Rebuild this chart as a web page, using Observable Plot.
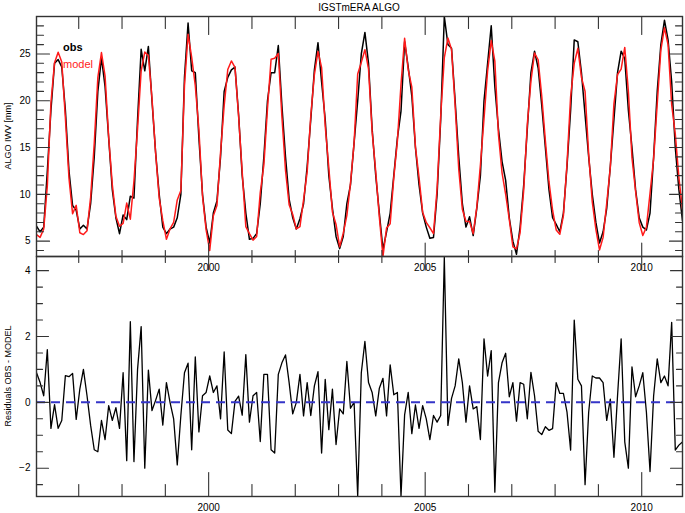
<!DOCTYPE html>
<html><head><meta charset="utf-8">
<script src="https://cdn.jsdelivr.net/npm/d3@7"></script>
<script src="https://cdn.jsdelivr.net/npm/@observablehq/plot@0.6"></script>
<style>
body{margin:0;background:#fff;}
#wrap{position:relative;width:685px;height:513px;font-family:"Liberation Sans",Arial,sans-serif;overflow:hidden;}
#wrap svg{position:absolute;left:0;top:0;overflow:visible;}
.lab{position:absolute;white-space:nowrap;color:#000;}
</style></head><body><div id="wrap"></div>
<script>
// ---- data: monthly series, first sample early Jan 1996, last Dec 2010 ----
const startYear = 1996;
const obs = [
 6.6,6.0,6.5,12.5,19,24,24.4,23.6,19,12.5,8.8,8.3,
 6.3,6.7,6.3,9,14,21,24.6,21.5,16,10.5,7.5,5.8,
 7.8,7.3,9.8,9.6,18,25.5,23.2,25.8,20,14.5,10,6.5,
 5.8,6.3,6.5,7.5,10,22.5,28.3,23.2,23,16,10,6.5,
 4.8,8,9.3,14,21,22.5,23.3,23.6,18.5,12,8,5.2,
 5.3,5.8,9,14,20,23,23,25.9,19.5,14,9.5,7.5,
 6.3,7.4,9,13,18,23.3,26.2,22,18,12,8.5,5.5,
 4.2,5.5,9,11,15.5,20,25,27.3,24,17,12,8,
 4.1,6,8,12,16,18.9,26.3,23.6,20.5,15,11,8,
 6.5,5.3,5.4,10,18,29.0,26,25.6,20,14,9,6.5,
 7.6,5.6,8.5,12,20,24,28,21.5,17,13.5,11.5,7.5,
 5,3.6,6.5,11,17,23,25.3,23.5,19.5,15,10.5,7.5,
 6.8,6,8,13,19,26.5,26.3,23,18.5,14,10,7,
 4.8,6,8.5,13,18,23,25.3,24.5,19,15,10.5,7.5,
 6.5,6.2,8,14,21,26,28.6,26.5,22,15,10.5,7.2
];
const model = [
 5.7,5.4,6.3,10.9,19.79,24.07,25.19,24.15,18.19,11.72,7.92,8.82,
 5.9,5.7,6.1,9.7,15.44,22.5,25.15,22.63,16.1,11.05,7.66,6.59,
 6.9,9.07,7.35,11.4,17.0,23.2,25.2,24.82,20.25,14.44,9.6,7.19,
 5.2,6.3,7.0,9.4,10.4,21.6,27.11,24.64,21.62,16.9,9.8,6.2,
 4.0,7.7,8.8,14.5,19.47,23.34,24.25,23.57,18.31,12.39,6.55,5.8,
 5.1,5.5,10.19,13.15,19.15,24.44,24.54,25.05,18.3,12.56,8.9,7.85,
 6.3,6.55,9.41,12.4,18.4,22.8,25.27,23.54,17.3,12.83,8.1,6.78,
 4.4,5.85,7.76,11.18,15.5,22.85,24.1,25.45,23.4,16.7,12.41,7.57,
 3.37,6.41,6.86,11.77,15.7,21.75,26.68,23.3,21.45,15.08,11.79,8.1,
 7.0,6.43,5.8,10.6,18.4,24.6,26.7,25.48,19.5,12.68,8.4,7.1,
 7.1,5.8,8.63,13.13,18.07,23.2,26.43,24.23,16.4,12.3,10.01,7.33,
 4.4,4.17,5.9,10.45,17.5,22.09,25.1,24.38,20.48,15.74,11.35,8.3,
 6.2,5.73,7.73,13.3,20.45,24.0,25.6,22.5,21.0,14.3,9.2,6.26,
 4.06,5.4,9.05,12.9,19.67,22.8,23.37,25.7,21.0,13.92,10.33,7.0,
 5.6,6.5,10.1,13.8,19.68,25.4,27.8,26.0,19.57,16.45,11.8,8.4
];
const resid = [
 0.9,0.6,0.2,1.6,-0.79,-0.07,-0.79,-0.55,0.81,0.78,0.88,-0.52,
 0.4,1.0,0.2,-0.7,-1.44,-1.5,-0.55,-1.13,-0.1,-0.55,-0.16,-0.79,
 0.9,-1.77,2.45,-1.8,1.0,2.3,-2.0,0.98,-0.25,0.06,0.4,-0.69,
 0.6,0.0,-0.5,-1.9,-0.4,0.9,1.19,-1.44,1.38,-0.9,0.2,0.3,
 0.8,0.3,0.5,-0.5,1.53,-0.84,-0.95,0.03,0.19,-0.39,1.45,-0.6,
 0.2,0.3,-1.19,0.85,0.85,-1.44,-1.54,0.85,1.2,1.44,0.6,-0.35,
 0.0,0.85,-0.41,0.6,-0.4,0.5,0.93,-1.54,0.7,-0.83,0.4,-1.28,
 -0.2,-0.35,1.24,-0.18,0.0,-2.85,0.9,1.85,0.6,0.3,-0.41,0.43,
 0.73,-0.41,1.14,0.23,0.3,-2.85,-0.38,0.3,-0.95,-0.08,-0.79,-0.1,
 -0.5,-1.13,-0.4,-0.6,-0.4,4.4,-0.7,0.12,0.5,1.32,0.6,-0.6,
 0.5,-0.2,-0.13,-1.13,1.93,0.8,1.57,-2.73,0.6,1.2,1.49,0.17,
 0.6,-0.57,0.6,0.55,-0.5,0.91,0.2,-0.88,-0.98,-0.74,-0.85,-0.8,
 0.6,0.27,0.27,-0.3,-1.45,2.5,0.7,0.5,-2.5,-0.3,0.8,0.74,
 0.74,0.6,-0.55,0.1,-1.67,0.2,1.93,-1.2,-2.0,1.08,0.17,0.5,
 0.9,-0.3,-2.1,0.2,1.32,0.6,0.8,0.5,2.43,-1.45,-1.3,-1.2
];
const yearTicks = [1997,1998,1999,2000,2001,2002,2003,2004,2005,2006,2007,2008,2009,2010];
const xLabelTicks = [2000, 2005, 2010];
const topMajor = [5,10,15,20,25];
const topMinor = [4,6,7,8,9,11,12,13,14,16,17,18,19,21,22,23,24,26,27,28];
const botMajor = [-2,0,2,4];
const botMinor = [-2.5,-1.5,-1,-0.5,0.5,1,1.5,2.5,3,3.5];
const titleText = "IGSTmERA ALGO";
const yLabelTop = "ALGO IWV [mm]";
const yLabelBot = "Residuals OBS - MODEL";
const legendItems = ["obs", "model"];

// ---- layout ----
const W = 685, H = 513;
const L = 36, R = 3, T1 = 16, MID = 256, B2 = 496;
const yTop = [3.36, 29.0];
const yBot = [-2.86, 4.43];
const frameColor = "#333";
const red = "#ff1a1a";

const rows = obs.map((v, i) => ({t: startYear + (i + 0.3) / 12, obs: v, model: model[i], resid: resid[i]}));
const xDomain = d3.extent(rows, d => d.t);
const tickShape = {draw(ctx, l) { ctx.moveTo(0, 0); ctx.lineTo(0, -l); }};
const tk = (data, o) => Plot.vector(data, {shape: tickShape, stroke: frameColor, strokeWidth: 1.1, anchor: "start", ...o});
const isMajor = y => xLabelTicks.includes(y);
const style = {fontFamily: "Liberation Sans, Arial, sans-serif", fontSize: "10px", background: "transparent", overflow: "visible", color: "#000"};

const topPlot = Plot.plot({
  width: W, height: H, marginLeft: L, marginRight: R, marginTop: T1, marginBottom: H - MID,
  style,
  x: {domain: xDomain}, y: {domain: yTop},
  marks: [
    Plot.line(rows, {x: "t", y: "obs", stroke: "#000", strokeWidth: 1.5, clip: true}),
    Plot.line(rows, {x: "t", y: "model", stroke: red, strokeWidth: 1.5, clip: true}),
    Plot.frame({stroke: frameColor, strokeWidth: 1.4}),
    tk(topMajor, {x: xDomain[0], y: d => d, length: 13, rotate: 90}),
    tk(topMinor, {x: xDomain[0], y: d => d, length: 7, rotate: 90}),
    tk(topMajor, {x: xDomain[1], y: d => d, length: 13, rotate: -90}),
    tk(topMinor, {x: xDomain[1], y: d => d, length: 7, rotate: -90}),
    tk(yearTicks, {x: d => d, y: yTop[1], length: d => isMajor(d) ? 6 : 4, rotate: 180}),
    tk(yearTicks, {x: d => d, y: yTop[0], length: d => isMajor(d) ? 9 : 4, rotate: 0, anchor: "middle"}),
    Plot.axisY({ticks: topMajor, tickSize: 0, tickPadding: 6, label: null, fontSize: 10}),
    Plot.axisX({ticks: xLabelTicks, tickSize: 0, tickPadding: 7, label: null, tickFormat: d => String(d), fontSize: 10})
  ]
});

const botPlot = Plot.plot({
  width: W, height: H, marginLeft: L, marginRight: R, marginTop: MID, marginBottom: H - B2,
  style,
  x: {domain: xDomain}, y: {domain: yBot},
  marks: [
    Plot.line(rows, {x: "t", y: "resid", stroke: "#000", strokeWidth: 1.3, clip: true}),
    Plot.ruleY([0], {stroke: "#3535c8", strokeWidth: 2, strokeDasharray: "9,6"}),
    Plot.frame({stroke: frameColor, strokeWidth: 1.4}),
    tk(botMajor, {x: xDomain[0], y: d => d, length: 12, rotate: 90}),
    tk(botMinor, {x: xDomain[0], y: d => d, length: 6, rotate: 90}),
    tk(botMajor, {x: xDomain[1], y: d => d, length: 12, rotate: -90}),
    tk(botMinor, {x: xDomain[1], y: d => d, length: 6, rotate: -90}),
    tk(yearTicks, {x: d => d, y: yBot[0], length: d => isMajor(d) ? 6 : 3, rotate: 0}),
    Plot.axisY({ticks: botMajor, tickSize: 0, tickPadding: 6, label: null, fontSize: 10, tickFormat: d => String(d).replace("-", "\u2212")}),
    Plot.axisX({ticks: xLabelTicks, tickSize: 0, tickPadding: 7, label: null, tickFormat: d => String(d), fontSize: 10})
  ]
});

const wrap = document.getElementById("wrap");
wrap.appendChild(topPlot);
wrap.appendChild(botPlot);

function addLabel(text, css) {
  const d = document.createElement("div");
  d.className = "lab";
  d.textContent = text;
  Object.assign(d.style, css);
  wrap.appendChild(d);
  return d;
}
addLabel(titleText, {left: "359px", top: "7px", fontSize: "10px", transform: "translate(-50%,-50%)"});
addLabel(yLabelTop, {left: "8px", top: "136px", fontSize: "9px", transform: "translate(-50%,-50%) rotate(-90deg)"});
addLabel(yLabelBot, {left: "8px", top: "376px", fontSize: "9px", transform: "translate(-50%,-50%) rotate(-90deg)"});
addLabel(legendItems[0], {left: "63px", top: "41px", fontSize: "11px", fontWeight: "600"});
addLabel(legendItems[1], {left: "63px", top: "58px", fontSize: "11px", color: red});
</script></body></html>
